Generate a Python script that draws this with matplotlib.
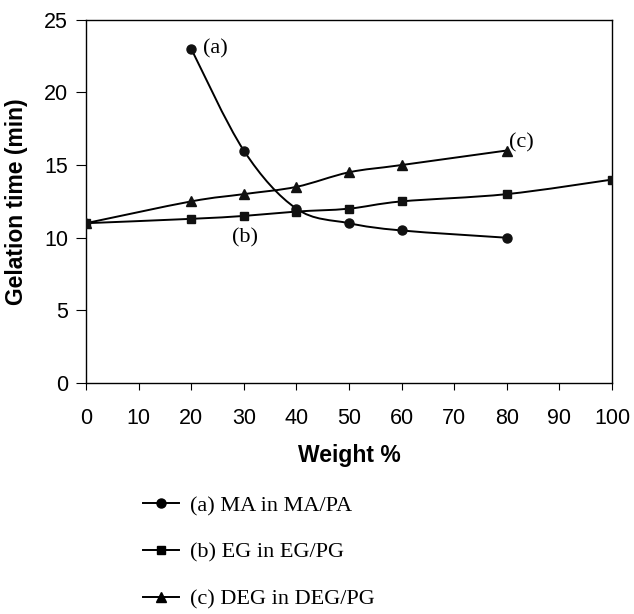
import matplotlib
matplotlib.use("Agg")
import matplotlib.pyplot as plt
from matplotlib.path import Path
from matplotlib.patches import PathPatch
from matplotlib.lines import Line2D

# data
ma_x = [20, 30, 40, 50, 60, 80]
ma_y = [23, 16, 12, 11, 10.5, 10]

eg_x = [0, 20, 30, 40, 50, 60, 80, 100]
eg_y = [11, 11.3, 11.5, 11.8, 12, 12.5, 13, 14]

deg_x = [0, 20, 30, 40, 50, 60, 80]
deg_y = [11, 12.5, 13, 13.5, 14.5, 15, 16]

legend_labels = ["(a) MA in MA/PA", "(b) EG in EG/PG", "(c) DEG in DEG/PG"]
x_ticks = list(range(0, 101, 10))
y_ticks = list(range(0, 26, 5))

serif = "Liberation Serif"
sans = "Liberation Sans"


def smooth_path(xs, ys):
    # Excel-style smoothed line: bezier segments through every data point
    pts = list(zip(xs, ys))
    verts = [pts[0]]
    codes = [Path.MOVETO]
    n = len(pts)
    for i in range(n - 1):
        p0 = pts[i - 1] if i > 0 else pts[i]
        p1 = pts[i]
        p2 = pts[i + 1]
        p3 = pts[i + 2] if i + 2 < n else pts[i + 1]
        c1 = (p1[0] + (p2[0] - p0[0]) / 6, p1[1] + (p2[1] - p0[1]) / 6)
        c2 = (p2[0] - (p3[0] - p1[0]) / 6, p2[1] - (p3[1] - p1[1]) / 6)
        verts += [c1, c2, p2]
        codes += [Path.CURVE4] * 3
    return Path(verts, codes)


fig = plt.figure(figsize=(6.34, 6.14), dpi=100)
ax = fig.add_axes([0.1356, 0.376, 0.8297, 0.592])

series = [(ma_x, ma_y, "o", 6.5), (eg_x, eg_y, "s", 6), (deg_x, deg_y, "^", 7.5)]
handles = []
for xs, ys, mk, ms in series:
    ax.add_patch(PathPatch(smooth_path(xs, ys), facecolor="none",
                           edgecolor="black", lw=1.4, zorder=2))
    ax.plot(xs, ys, linestyle="none", marker=mk, ms=ms, color="#111111", zorder=3)
    handles.append(Line2D([], [], color="black", lw=1.4, marker=mk, ms=ms))

ax.set_xlim(0, 100)
ax.set_ylim(0, 25)
ax.set_xticks(x_ticks)
ax.set_yticks(y_ticks)
ax.tick_params(axis="x", direction="out", length=5, width=0.8, pad=13,
               labelsize=15.5)
ax.tick_params(axis="y", direction="out", length=7, width=0.8, pad=6,
               labelsize=15.5)
for lab in ax.get_xticklabels() + ax.get_yticklabels():
    lab.set_fontfamily(sans)
for sp in ax.spines.values():
    sp.set_linewidth(1.0)

ax.set_xlabel("Weight %", fontfamily=sans, fontweight="bold", fontsize=16.5)
ax.set_ylabel("Gelation time (min)", fontfamily=sans, fontweight="bold",
              fontsize=16.5)
ax.xaxis.set_label_coords(0.5, -0.168)
ax.yaxis.set_label_coords(-0.110, 0.5)

ax.text(22.2, 23, "(a)", fontfamily=serif, fontsize=16, va="center", ha="left")
ax.text(27.8, 10.0, "(b)", fontfamily=serif, fontsize=16, va="center", ha="left")
ax.text(80.5, 16.5, "(c)", fontfamily=serif, fontsize=16, va="center", ha="left")

fig.legend(handles, legend_labels, loc="upper left",
           bbox_to_anchor=(0.2256, 0.193), frameon=False,
           prop={"family": serif, "size": 16}, handlelength=1.6,
           handletextpad=0.5, labelspacing=1.18, borderpad=0,
           borderaxespad=0)

fig.savefig("out.png", dpi=100)
